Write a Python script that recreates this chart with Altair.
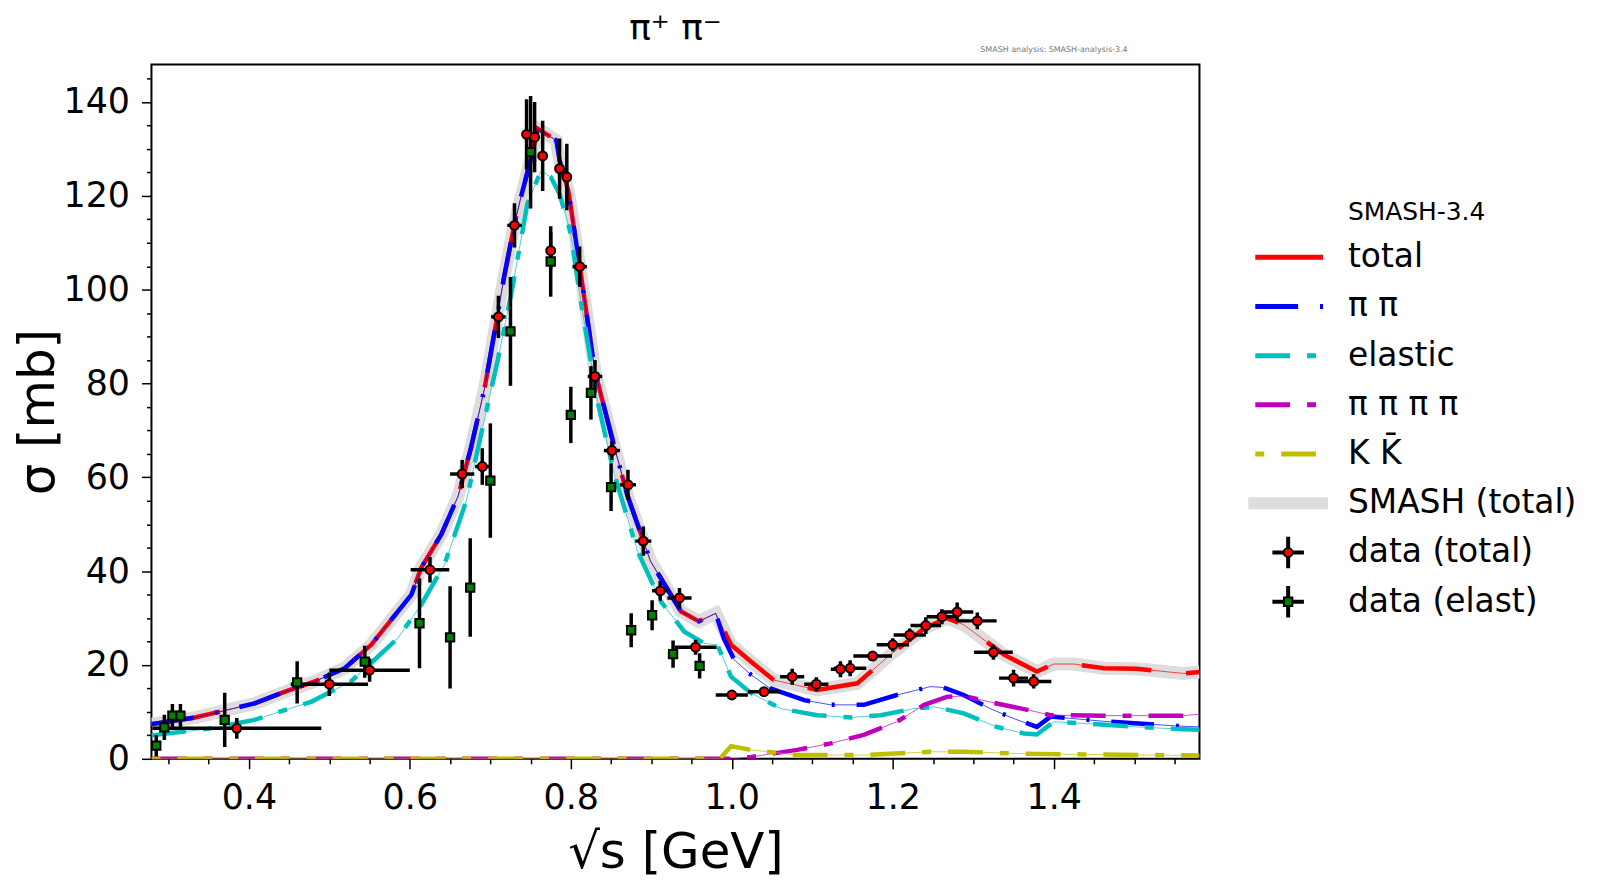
import pandas as pd
import altair as alt

FONT = "DejaVu Sans"

# SMASH-3.4 model curves: sqrt(s) [GeV] -> sigma [mb]
total_x = [0.279, 0.333, 0.407, 0.445, 0.482, 0.519, 0.552, 0.602, 0.614, 0.639, 0.660, 0.676, 0.693,
           0.707, 0.717, 0.730, 0.738, 0.751, 0.759, 0.782, 0.786, 0.797, 0.811, 0.830, 0.850, 0.870,
           0.899, 0.937, 0.959, 0.980, 0.999, 1.024, 1.052, 1.106, 1.156, 1.197, 1.239, 1.267, 1.288,
           1.338, 1.379, 1.400, 1.425, 1.462, 1.503, 1.561, 1.581]
total_y = [7.4, 8.8, 11.8, 14.3, 16.5, 19.3, 24.3, 35.0, 40.7, 47.8, 56.0, 66.3, 79.1,
           92.7, 102.6, 114.0, 119.7, 128.3, 134.3, 131.8, 127.6, 121.0, 105.0, 82.5, 69.2, 56.3,
           42.1, 31.4, 29.3, 31.0, 24.3, 20.7, 16.8, 14.7, 16.1, 22.2, 27.8, 30.0, 28.6,
           22.2, 18.6, 20.2, 20.2, 19.3, 19.2, 18.2, 18.5]

pipi_x = [0.279, 0.333, 0.407, 0.445, 0.482, 0.519, 0.552, 0.602, 0.614, 0.639, 0.660, 0.676, 0.693,
          0.707, 0.717, 0.730, 0.738, 0.751, 0.759, 0.782, 0.786, 0.797, 0.811, 0.830, 0.850, 0.870,
          0.899, 0.937, 0.959, 0.980, 0.990, 1.003, 1.024, 1.048, 1.090, 1.123, 1.164, 1.205, 1.247,
          1.263, 1.288, 1.321, 1.350, 1.379, 1.396, 1.462, 1.553, 1.581]
pipi_y = [7.4, 8.8, 11.8, 14.3, 16.5, 19.3, 24.3, 35.0, 40.7, 47.8, 56.0, 66.3, 79.1,
          92.7, 102.6, 114.0, 119.7, 128.3, 134.3, 131.8, 127.6, 121.0, 105.0, 82.5, 69.2, 56.3,
          42.1, 31.4, 29.3, 31.0, 25.7, 21.1, 17.9, 15.0, 12.5, 11.5, 11.5, 13.6, 15.4,
          15.2, 13.6, 10.7, 8.6, 6.8, 9.0, 8.0, 7.0, 6.8]

elastic_x = [0.279, 0.354, 0.407, 0.478, 0.527, 0.585, 0.614, 0.643, 0.670, 0.709, 0.726, 0.746,
             0.763, 0.775, 0.786, 0.800, 0.813, 0.833, 0.854, 0.883, 0.912, 0.941, 0.966, 0.982,
             0.999, 1.024, 1.061, 1.106, 1.148, 1.185, 1.226, 1.251, 1.288, 1.329, 1.363, 1.379,
             1.400, 1.441, 1.503, 1.561, 1.581]
elastic_y = [5.0, 6.5, 8.3, 12.2, 16.5, 25.7, 32.8, 41.4, 54.9, 84.8, 99.1, 118.3,
             125.4, 124.0, 120.4, 111.9, 97.0, 76.3, 60.6, 44.2, 33.5, 27.1, 24.6, 24.3,
             17.5, 14.0, 10.7, 9.3, 8.8, 9.3, 10.7, 11.1, 9.7, 6.8, 5.4, 5.2,
             7.9, 7.5, 6.8, 6.3, 6.2]

pi4_x = [0.279, 1.000, 1.024, 1.081, 1.123, 1.164, 1.205, 1.239, 1.267, 1.288, 1.329, 1.363,
         1.396, 1.462, 1.561, 1.581]
pi4_y = [0.0, 0.0, 0.4, 1.9, 3.3, 5.1, 7.9, 11.5, 13.2, 13.4, 11.8, 10.6,
         9.3, 9.2, 9.2, 9.5]

kk_x = [0.279, 0.985, 0.999, 1.024, 1.081, 1.164, 1.247, 1.288, 1.363, 1.400, 1.462, 1.581]
kk_y = [0.0, 0.0, 2.7, 1.9, 0.8, 0.8, 1.5, 1.5, 1.1, 1.0, 0.9, 0.7]

# measured total cross section
dtot_x = [0.385, 0.500, 0.550, 0.625, 0.665, 0.690, 0.710, 0.730, 0.745, 0.755, 0.765, 0.775,
          0.786, 0.795, 0.811, 0.830, 0.851, 0.871, 0.890, 0.911, 0.935, 0.955, 1.000, 1.040,
          1.075, 1.105, 1.135, 1.147, 1.175, 1.200, 1.221, 1.241, 1.261, 1.280, 1.305, 1.325,
          1.350, 1.375]
dtot_y = [6.5, 15.9, 18.9, 40.3, 60.7, 62.3, 94.2, 113.7, 133.1, 132.5, 128.5, 108.3,
          125.8, 124.0, 104.9, 81.5, 65.7, 58.4, 46.4, 35.8, 34.3, 23.8, 13.6, 14.3,
          17.5, 15.9, 19.1, 19.3, 21.9, 24.3, 26.4, 28.4, 30.3, 31.3, 29.4, 22.7,
          17.2, 16.5]
dtot_xerr = [0.105, 0.048, 0.050, 0.024, 0.015, 0.009, 0.009, 0.009, 0.0, 0.0, 0.0, 0.0,
             0.0, 0.0, 0.009, 0.009, 0.010, 0.010, 0.010, 0.010, 0.015, 0.026, 0.020, 0.020,
             0.015, 0.015, 0.012, 0.020, 0.024, 0.020, 0.020, 0.019, 0.019, 0.020, 0.024, 0.024,
             0.018, 0.022]
dtot_yerr = [2.2, 2.5, 2.5, 2.7, 3.0, 3.9, 4.5, 4.7, 7.5, 7.5, 7.5, 4.0,
             6.4, 7.1, 4.3, 3.5, 2.0, 3.2, 3.1, 2.1, 2.1, 1.6, 0.8, 1.0,
             1.7, 1.5, 1.7, 1.7, 1.0, 1.4, 1.4, 1.8, 1.6, 2.0, 1.8, 1.6,
             1.8, 1.5]

# measured elastic cross section
del_x = [0.285, 0.295, 0.305, 0.315, 0.370, 0.460, 0.544, 0.612, 0.650, 0.675, 0.700, 0.725,
         0.750, 0.775, 0.800, 0.825, 0.850, 0.875, 0.901, 0.927, 0.960]
del_y = [2.8, 6.7, 9.2, 9.2, 8.3, 16.3, 20.7, 28.9, 25.9, 36.5, 59.3, 91.1,
         129.3, 106.0, 73.3, 78.0, 57.9, 27.4, 30.6, 22.3, 19.8]
del_yerr = [2.3, 2.7, 2.5, 2.5, 5.8, 4.5, 3.4, 9.6, 10.9, 10.5, 12.2, 11.6,
            12.0, 7.5, 6.0, 5.7, 5.1, 3.6, 3.2, 2.9, 2.7]

x_ticks = [0.30, 0.35, 0.40, 0.45, 0.50, 0.55, 0.60, 0.65, 0.70, 0.75, 0.80, 0.85, 0.90,
           0.95, 1.00, 1.05, 1.10, 1.15, 1.20, 1.25, 1.30, 1.35, 1.40, 1.45, 1.50, 1.55]
y_ticks = [0, 5, 10, 15, 20, 25, 30, 35, 40, 45, 50, 55, 60, 65, 70, 75, 80, 85, 90, 95,
           100, 105, 110, 115, 120, 125, 130, 135, 140, 145]

legend_labels = ["total", "π π", "elastic", "π π π π", "K K̄", "SMASH (total)",
                 "data (total)", "data (elast)"]

W, H = 1052, 697
ROW = 49.4

# name, x, y, colour, dash pattern of the thick line
curves = [
    ("total", total_x, total_y, "#ff0000", [70, 35]),
    ("pipi", pipi_x, pipi_y, "#0000ff", [43, 22, 3, 22]),
    ("elastic", elastic_x, elastic_y, "#00bfbf", [35, 17, 9, 17]),
    ("pi4", pi4_x, pi4_y, "#bf00bf", [35, 17, 9, 17]),
    ("kk", kk_x, kk_y, "#bfbf00", [9, 17, 35, 17]),
]

xs = alt.Scale(domain=[0.279, 1.581], nice=False, zero=False)
ys = alt.Scale(domain=[0, 148], nice=False, zero=False)

x_major = "round(datum.value*100) % 20 == 0"
x_axis = alt.Axis(values=x_ticks, title="√s [GeV]", grid=False, domain=False,
                  labelExpr=x_major + " ? format(datum.value, '.1f') : ''",
                  tickSize={"condition": {"test": x_major, "value": 10}, "value": 5},
                  labelFlush=False, labelOverlap=False, labelPadding=12, titlePadding=12,
                  titleFontSize=50)
y_major = "datum.value % 20 == 0"
y_axis = alt.Axis(values=y_ticks, title="σ [mb]", grid=False, domain=False,
                  labelExpr=y_major + " ? datum.label : ''",
                  tickSize={"condition": {"test": y_major, "value": 10}, "value": 5},
                  labelFlush=False, labelOverlap=False, labelPadding=12, titlePadding=0,
                  titleFontSize=50)


def X(field):
    return alt.X(field, type="quantitative", scale=xs, axis=x_axis)


def Y(field):
    return alt.Y(field, type="quantitative", scale=ys, axis=y_axis)


layers = []
band_df = pd.DataFrame({"x": total_x, "y": total_y})
layers.append(alt.Chart(band_df).mark_line(color="#dddddd", strokeWidth=13, clip=True)
              .encode(X("x"), Y("y")))
for name, cx, cy, col, dash in curves:
    cdf = pd.DataFrame({"x": cx, "y": cy})
    layers.append(alt.Chart(cdf).mark_line(color=col, strokeWidth=1, opacity=0.7, clip=True)
                  .encode(X("x"), Y("y")))
    layers.append(alt.Chart(cdf).mark_line(color=col, strokeWidth=4.5, strokeDash=dash, clip=True)
                  .encode(X("x"), Y("y")))

tot = pd.DataFrame({"x": dtot_x, "y": dtot_y, "xe": dtot_xerr, "ye": dtot_yerr})
tot["xlo"] = tot.x - tot.xe
tot["xhi"] = tot.x + tot.xe
tot["ylo"] = tot.y - tot.ye
tot["yhi"] = tot.y + tot.ye
el = pd.DataFrame({"x": del_x, "y": del_y, "ye": del_yerr})
el["ylo"] = el.y - el.ye
el["yhi"] = el.y + el.ye

bar = dict(color="black", strokeWidth=3.5, clip=True)
layers.append(alt.Chart(el).mark_rule(**bar).encode(X("x"), Y("ylo"), y2="yhi"))
layers.append(alt.Chart(tot).mark_rule(**bar).encode(X("x"), Y("ylo"), y2="yhi"))
layers.append(alt.Chart(tot[tot.xe > 0]).mark_rule(**bar).encode(X("xlo"), Y("y"), x2="xhi"))
layers.append(alt.Chart(tot).mark_circle(color="#ff0000", stroke="black", strokeWidth=2,
                                         size=80, opacity=1).encode(X("x"), Y("y")))
layers.append(alt.Chart(el).mark_square(color="#008000", stroke="black", strokeWidth=2,
                                        size=70, opacity=1).encode(X("x"), Y("y")))

title_df = pd.DataFrame({"t": ["π⁺ π⁻"]})
layers.append(alt.Chart(title_df).mark_text(font=FONT, fontSize=36, color="black",
                                            baseline="alphabetic", align="center")
              .encode(x=alt.value(W / 2), y=alt.value(-25), text="t:N"))
note_df = pd.DataFrame({"t": ["SMASH analysis: SMASH-analysis-3.4"]})
layers.append(alt.Chart(note_df).mark_text(font=FONT, fontSize=8, color="#777777",
                                           baseline="middle", align="left")
              .encode(x=alt.value(832), y=alt.value(-14), text="t:N"))

main = alt.layer(*layers).properties(
    width=W, height=H, view=alt.ViewBackground(stroke="black", strokeWidth=2))

# legend panel
ly = alt.Scale(domain=[-193.5 / ROW, (H - 193.5) / ROW], reverse=True)
LY = alt.Y("row:Q", scale=ly, axis=None)
leg = []
head = pd.DataFrame({"row": [-0.91], "label": ["SMASH-3.4"]})
leg.append(alt.Chart(head).mark_text(font=FONT, fontSize=25, color="black", align="left",
                                     baseline="middle").encode(x=alt.value(100), y=LY, text="label:N"))
for i, (name, cx, cy, col, dash) in enumerate(curves):
    r = pd.DataFrame({"row": [i]})
    leg.append(alt.Chart(r).mark_rule(color=col, strokeWidth=5, strokeDash=dash)
               .encode(x=alt.value(7), x2=alt.value(75), y=LY))
r = pd.DataFrame({"row": [5]})
leg.append(alt.Chart(r).mark_rule(color="#dddddd", strokeWidth=12)
           .encode(x=alt.value(0), x2=alt.value(80), y=LY))
cross = "M-1,0L1,0M0,-1L0,1"
for row, col, shape, size in [(6, "#ff0000", "circle", 80), (7, "#008000", "square", 70)]:
    r = pd.DataFrame({"row": [row]})
    leg.append(alt.Chart(r).mark_point(shape=cross, size=1000, stroke="black", strokeWidth=4,
                                       filled=False, opacity=1)
               .encode(x=alt.value(40), y=LY))
    leg.append(alt.Chart(r).mark_point(shape=shape, size=size, fill=col, stroke="black",
                                       strokeWidth=2, filled=True, opacity=1)
               .encode(x=alt.value(40), y=LY))
lab = pd.DataFrame({"row": list(range(len(legend_labels))), "label": legend_labels})
leg.append(alt.Chart(lab).mark_text(font=FONT, fontSize=33, color="black", align="left",
                                    baseline="middle").encode(x=alt.value(100), y=LY, text="label:N"))
legend = alt.layer(*leg).properties(width=340, height=H)

chart = alt.hconcat(main, legend, spacing=49, bounds="flush").configure_view(
    stroke=None
).configure_axis(
    labelFont=FONT, labelFontSize=35, labelColor="black",
    titleFont=FONT, titleFontWeight="normal", titleColor="black",
    tickColor="black", tickWidth=1.5,
).properties(
    padding={"left": 4, "top": 0, "right": 5, "bottom": 5}
)

chart.save("out.html", embed_options={"renderer": "svg", "actions": False})
